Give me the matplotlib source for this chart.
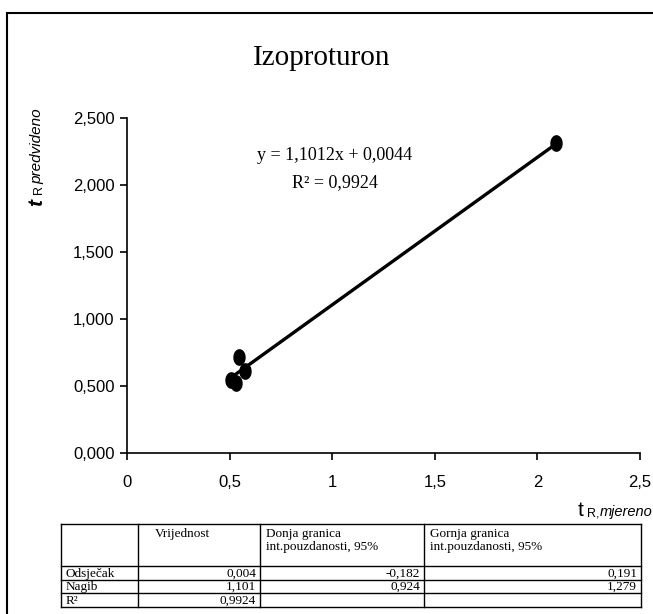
import matplotlib
matplotlib.use("Agg")
import matplotlib.pyplot as plt
from matplotlib.patches import Rectangle
from matplotlib.path import Path
from matplotlib.ticker import FuncFormatter
import numpy as np

# podaci (ocitano sa slike)
t_mjereno = [0.507, 0.532, 0.546, 0.576, 2.09]
t_predvideno = [0.545, 0.522, 0.716, 0.612, 2.31]
nagib = 1.1012
odsjecak = 0.0044
r2 = 0.9924

x_ticks = [0, 0.5, 1, 1.5, 2, 2.5]
y_ticks = [0, 0.5, 1.0, 1.5, 2.0, 2.5]

# tablica
tab_zaglavlje = ["", "Vrijednost", "Donja granica\nint.pouzdanosti, 95%",
                 "Gornja granica\nint.pouzdanosti, 95%"]
tab_redovi = ["Odsječak", "Nagib", "R²"]
tab_vrijednost = ["0,004", "1,101", "0,9924"]
tab_donja = ["-0,182", "0,924", ""]
tab_gornja = ["0,191", "1,279", ""]

W, H = 653, 614
serif = ["Liberation Serif", "DejaVu Serif"]
sans = ["Liberation Sans", "DejaVu Sans"]


def fx(px):
    return px / W


def fy(py):
    return 1 - py / H


fig = plt.figure(figsize=(W / 100, H / 100), dpi=100)

# okvir grafikona
fig.patches.append(Rectangle((fx(7), fy(700)), fx(700), fy(13) - fy(700),
                             transform=fig.transFigure, fill=False,
                             edgecolor="black", linewidth=1.5))

ax = fig.add_axes([fx(127), fy(453), fx(640) - fx(127), fy(118) - fy(453)])

# elipsasti marker
th = np.linspace(0, 2 * np.pi, 40)
elipsa = Path(np.column_stack([0.72 * np.cos(th), np.sin(th)]))

ax.plot(t_mjereno, t_predvideno, linestyle="none", marker=elipsa,
        markersize=11, color="black", zorder=3)
xl = np.array([min(t_mjereno), max(t_mjereno)])
ax.plot(xl, nagib * xl + odsjecak, color="black", linewidth=2.4, zorder=2)

ax.set_xlim(0, 2.5)
ax.set_ylim(0, 2.5)
ax.set_xticks(x_ticks)
ax.set_yticks(y_ticks)
ax.xaxis.set_major_formatter(FuncFormatter(lambda v, p: ("%g" % v).replace(".", ",")))
ax.yaxis.set_major_formatter(FuncFormatter(lambda v, p: ("%.3f" % v).replace(".", ",")))
for s in ["top", "right"]:
    ax.spines[s].set_visible(False)
for s in ["left", "bottom"]:
    ax.spines[s].set_linewidth(1.2)
ax.tick_params(direction="out", length=5, width=1.2, labelsize=12, pad=4)
for lab in ax.get_xticklabels() + ax.get_yticklabels():
    lab.set_family(sans)
ax.tick_params(axis="x", pad=11)

# naslov i jednadzba
fig.text(fx(322), fy(58), "Izoproturon", ha="center", va="center",
         family=serif, fontsize=21)
fig.text(fx(335), fy(155), "y = 1,1012x + 0,0044", ha="center", va="center",
         family=serif, fontsize=13)
fig.text(fx(335), fy(183), "R² = 0,9924", ha="center", va="center",
         family=serif, fontsize=13)

# oznake osi
fig.text(fx(37), fy(206), "t", rotation=90, ha="center", va="bottom",
         family=sans, fontsize=15, fontweight="bold", style="italic")
fig.text(fx(39), fy(194), "R", rotation=90, ha="center", va="bottom",
         family=sans, fontsize=9)
fig.text(fx(37), fy(184), "predvideno", rotation=90, ha="center", va="bottom",
         family=sans, fontsize=11, style="italic")

fig.text(fx(578), fy(516), "t", ha="left", va="baseline",
         family=sans, fontsize=15)
fig.text(fx(587), fy(516), "R,", ha="left", va="baseline",
         family=sans, fontsize=9)
fig.text(fx(600), fy(516), "mjereno", ha="left", va="baseline",
         family=sans, fontsize=10.5, style="italic")

# tablica ispod grafikona
tx = fig.add_axes([0, 0, 1, 1])
tx.set_xlim(0, W)
tx.set_ylim(H, 0)
tx.axis("off")
kol = [61, 138, 260, 424, 641]
red = [524, 566, 580, 593, 607]
for x in kol:
    tx.plot([x, x], [red[0], red[-1]], color="black", linewidth=1.0)
for y in red:
    tx.plot([kol[0], kol[-1]], [y, y], color="black", linewidth=1.0)

for i, z in enumerate(tab_zaglavlje):
    if z:
        x0 = kol[i] + (17 if i == 1 else 6)
        tx.text(x0, red[0] + 4, z, ha="left", va="top", family=serif,
                fontsize=9.5, linespacing=1.1)

stupci = [tab_vrijednost, tab_donja, tab_gornja]
for r, naziv in enumerate(tab_redovi):
    yc = (red[r + 1] + red[r + 2]) / 2 + 0.5
    tx.text(kol[0] + 5, yc, naziv, ha="left", va="center", family=serif, fontsize=9.5)
    for c, stup in enumerate(stupci):
        if stup[r]:
            tx.text(kol[c + 2] - 4, yc, stup[r], ha="right", va="center",
                    family=serif, fontsize=9.5)

fig.savefig("out.png", dpi=100)
